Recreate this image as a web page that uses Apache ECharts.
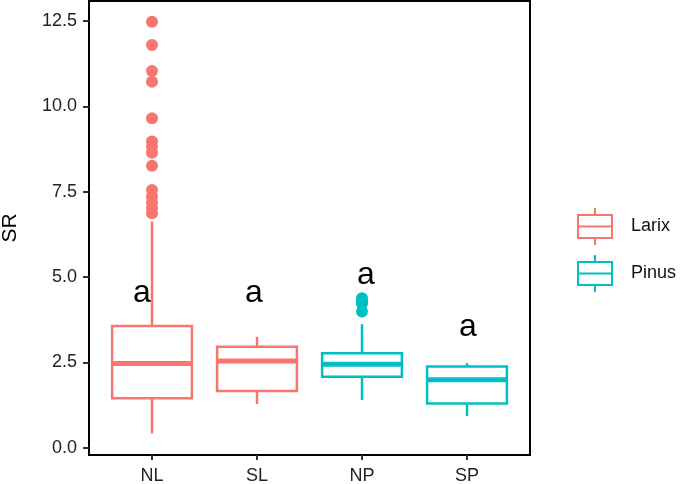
<!DOCTYPE html>
<html>
<head>
<meta charset="utf-8">
<script src="https://cdn.jsdelivr.net/npm/echarts@6/dist/echarts.min.js"></script>
<style>
html,body{margin:0;padding:0;background:#fff;}
#chart{width:685px;height:484px;}
</style>
</head>
<body>
<div id="chart"></div>
<script>
// ---- data ----
const categories = ['NL', 'SL', 'NP', 'SP'];
const species = ['Larix', 'Larix', 'Pinus', 'Pinus'];
const speciesNames = ['Larix', 'Pinus'];
const whiskerLow = [0.42, 1.28, 1.40, 0.93];
const q1 = [1.45, 1.66, 2.08, 1.30];
const median = [2.47, 2.54, 2.45, 1.99];
const q3 = [3.57, 2.96, 2.77, 2.38];
const whiskerHigh = [6.62, 3.25, 3.62, 2.48];
const outliersNL = [12.48, 11.80, 11.04, 10.72, 9.65, 8.97, 8.82, 8.64, 8.26, 7.55, 7.36, 7.19, 7.02, 6.87];
const outliersNP = [4.38, 4.30, 4.23, 3.99];
const yTicks = [0, 2.5, 5, 7.5, 10, 12.5];
const letters = ['a', 'a', 'a', 'a'];
const letterY = [4.58, 4.58, 5.11, 3.60];

// ---- styles ----
const colors = { Larix: '#F8766D', Pinus: '#00BFC4' };
const BOX_W = 0.76;
const FONT = '"Liberation Sans", Arial, sans-serif';
const letterOffsetX = [-10, -3, 4, 1];

function boxData(sp) {
  const out = [];
  categories.forEach((c, i) => {
    if (species[i] === sp) out.push([i + 1, whiskerLow[i], q1[i], median[i], q3[i], whiskerHigh[i]]);
  });
  return out;
}
function renderBox(color) {
  return function (params, api) {
    const x = api.value(0);
    const lo = api.coord([x, api.value(1)]);
    const b = api.coord([x, api.value(2)]);
    const m = api.coord([x, api.value(3)]);
    const t = api.coord([x, api.value(4)]);
    const hi = api.coord([x, api.value(5)]);
    const w = api.size([BOX_W, 0])[0];
    const ls = { stroke: color, lineWidth: 2.5, fill: null };
    return {
      type: 'group',
      children: [
        { type: 'line', shape: { x1: lo[0], y1: lo[1], x2: b[0], y2: b[1] }, style: ls },
        { type: 'line', shape: { x1: t[0], y1: t[1], x2: hi[0], y2: hi[1] }, style: ls },
        { type: 'rect', shape: { x: t[0] - w / 2, y: t[1], width: w, height: b[1] - t[1] },
          style: { fill: '#fff', stroke: color, lineWidth: 2.5 } },
        { type: 'line', shape: { x1: m[0] - w / 2, y1: m[1], x2: m[0] + w / 2, y2: m[1] },
          style: { stroke: color, lineWidth: 5 } }
      ]
    };
  };
}
const iconPath = 'path://M17,0L17,7M0,7L34,7L34,30L0,30ZM0,18.5L34,18.5M17,30L17,37';

const series = [];
speciesNames.forEach((sp, k) => {
  series.push({
    name: sp, type: 'custom', xAxisIndex: 0, yAxisIndex: 0,
    renderItem: renderBox(colors[sp]),
    encode: { x: 0, y: [1, 2, 3, 4, 5] },
    itemStyle: { color: colors[sp] },
    data: boxData(sp), z: 2
  });
});
series.push({
  name: 'Larix', type: 'scatter', symbolSize: 12,
  itemStyle: { color: colors.Larix, opacity: 1 },
  data: outliersNL.map(v => [categories.indexOf('NL') + 1, v]), z: 3
});
series.push({
  name: 'Pinus', type: 'scatter', symbolSize: 12,
  itemStyle: { color: colors.Pinus, opacity: 1 },
  data: outliersNP.map(v => [categories.indexOf('NP') + 1, v]), z: 3
});
series.push({
  name: 'letters', type: 'scatter', symbolSize: 0, silent: true,
  itemStyle: { opacity: 1, color: '#000' },
  data: letters.map((l, i) => ({
    value: [i + 1, letterY[i]],
    label: { show: true, position: 'inside', formatter: l, offset: [letterOffsetX[i], 2],
      fontSize: 32, color: '#000', opacity: 1, fontFamily: FONT, textBorderWidth: 0 }
  })),
  z: 5
});

const chart = echarts.init(document.getElementById('chart'), null, { renderer: 'canvas' });
chart.setOption({
  animation: false,
  backgroundColor: '#fff',
  grid: { left: 89, top: 1, right: 155, bottom: 29, show: true, borderColor: '#000', borderWidth: 2,
    backgroundColor: 'transparent', containLabel: false, outerBoundsMode: 'none' },
  legend: {
    orient: 'vertical', left: 572, top: 202, itemWidth: 34, itemHeight: 37, itemGap: 8,
    textStyle: { fontSize: 18, color: '#111', fontFamily: FONT, padding: [0, 0, 0, 14] },
    data: speciesNames.map(sp => ({
      name: sp, icon: iconPath,
      itemStyle: { color: '#fff', borderColor: colors[sp], borderWidth: 2 }
    }))
  },
  xAxis: {
    type: 'value', min: 0.4, max: 4.6,
    splitLine: { show: false },
    axisLine: { show: true, onZero: false, lineStyle: { color: '#000', width: 2 } },
    axisTick: { show: true, length: 5, customValues: categories.map((c, i) => i + 1), lineStyle: { color: '#333', width: 2 } },
    axisLabel: { customValues: categories.map((c, i) => i + 1), formatter: v => categories[Math.round(v) - 1],
      fontSize: 18, color: '#222', fontFamily: FONT, margin: 12 }
  },
  yAxis: {
    type: 'value', min: -0.211, max: 13.087,
    name: 'SR', nameLocation: 'middle', nameGap: 68,
    nameTextStyle: { fontSize: 21, color: '#000', fontFamily: FONT },
    splitLine: { show: false },
    axisLine: { show: true, onZero: false, lineStyle: { color: '#000', width: 2 } },
    axisTick: { show: true, length: 6, customValues: yTicks, lineStyle: { color: '#333', width: 2 } },
    axisLabel: { customValues: yTicks, formatter: v => v.toFixed(1),
      fontSize: 18, color: '#222', fontFamily: FONT, margin: 12 }
  },
  series: series
});
</script>
</body>
</html>
